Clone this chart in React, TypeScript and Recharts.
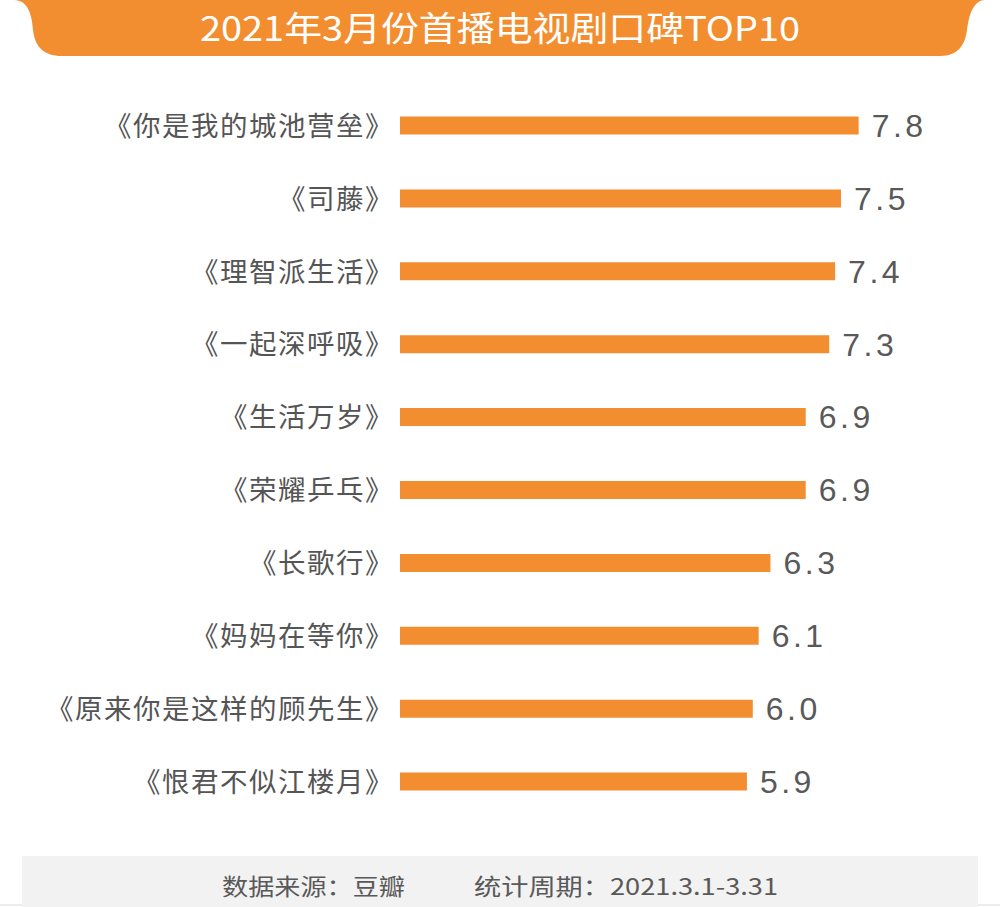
import { BarChart, Bar, XAxis, YAxis, LabelList } from 'recharts'

const titles = [
  '《你是我的城池营垒》',
  '《司藤》',
  '《理智派生活》',
  '《一起深呼吸》',
  '《生活万岁》',
  '《荣耀乒乓》',
  '《长歌行》',
  '《妈妈在等你》',
  '《原来你是这样的顾先生》',
  '《恨君不似江楼月》',
]
const scores = [7.8, 7.5, 7.4, 7.3, 6.9, 6.9, 6.3, 6.1, 6.0, 5.9]

const chartTitle = '2021年3月份首播电视剧口碑TOP10'
const sourceText = '数据来源：豆瓣'
const periodText = '统计周期：2021.3.1-3.31'

const data = titles.map((name, i) => ({ name, score: scores[i] }))

const ORANGE = '#F28E2F'
const GREY = '#595959'
const CJK = '"Noto Sans CJK SC", "Noto Sans", sans-serif'

export default function App() {
  return (
    <div style={{ position: 'absolute', left: 0, top: 0, width: 1000, height: 907, background: '#fff', overflow: 'hidden' }}>
      <svg width={1000} height={907} style={{ position: 'absolute', left: 0, top: 0 }}>
        <path
          d="M14,0 C28,0 32,15 33,30 C35,48 45,56 62,56 L940,56 C958,56 965,45 967,30 C969,12 975,0 985,0 Z"
          fill={ORANGE}
        />
        <text
          x={500}
          y={41}
          textAnchor="middle"
          fill="#fff"
          fontFamily={CJK}
          fontSize={34}
          textLength={600}
          lengthAdjust="spacingAndGlyphs"
        >
          {chartTitle}
        </text>
        <line x1={0} y1={905} x2={1000} y2={905} stroke="#d9d9d9" strokeWidth={1} />
        <rect x={22} y={856} width={956} height={51} fill="#f2f2f2" />
        <text x={222} y={895} fill={GREY} fontFamily={CJK} fontSize={23} textLength={183} lengthAdjust="spacingAndGlyphs">
          {sourceText}
        </text>
        <text x={474} y={895} fill={GREY} fontFamily={CJK} fontSize={23} textLength={304} lengthAdjust="spacingAndGlyphs">
          {periodText}
        </text>
      </svg>
      <div style={{ position: 'absolute', left: 0, top: 0 }}>
        <BarChart
          width={1000}
          height={907}
          data={data}
          layout="vertical"
          margin={{ top: 89.5, right: 12, bottom: 88.5, left: 0 }}
          barCategoryGap={0}
        >
          <XAxis type="number" domain={[0, 10]} hide />
          <YAxis
            type="category"
            dataKey="name"
            width={400}
            axisLine={false}
            tickLine={false}
            tickSize={0}
            tickMargin={6}
            interval={0}
            tick={{ fill: '#555', fontSize: 27.5, fontFamily: CJK, letterSpacing: 1.5 }}
          />
          <Bar dataKey="score" fill={ORANGE} barSize={18} isAnimationActive={false}>
            <LabelList
              dataKey="score"
              position="right"
              offset={13}
              formatter={(v: number) => v.toFixed(1)}
              style={{ fill: GREY, fontSize: 32, fontFamily: '"Liberation Sans", Arial, sans-serif', letterSpacing: 3.5 }}
            />
          </Bar>
        </BarChart>
      </div>
    </div>
  )
}
